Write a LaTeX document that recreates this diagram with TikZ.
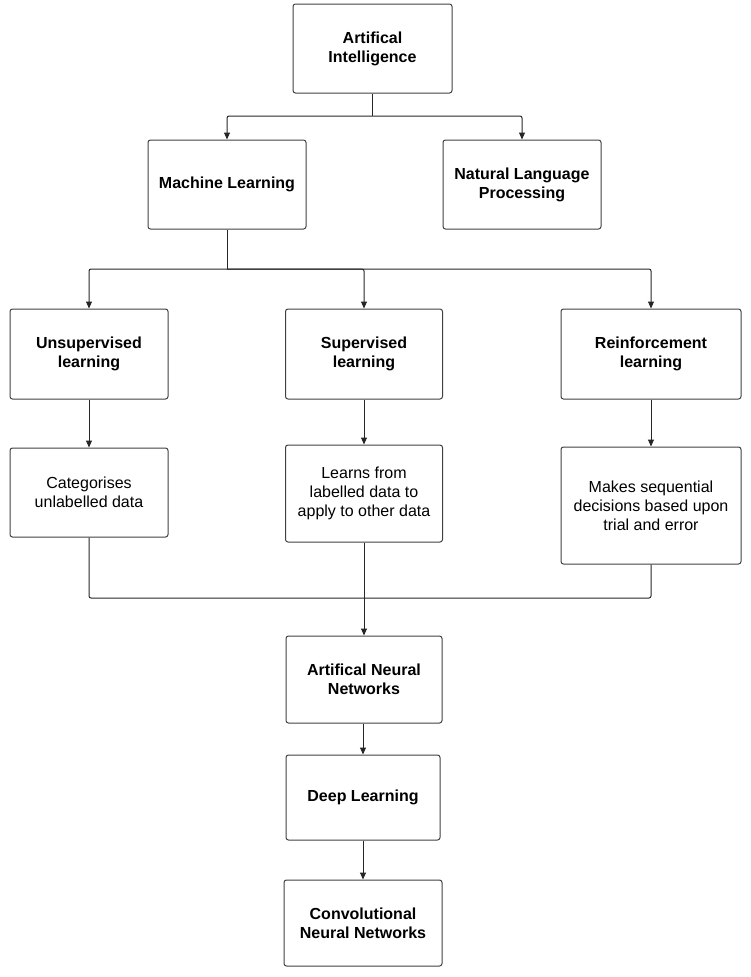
\documentclass[tikz,border=0pt]{standalone}
\usepackage{fontspec}
\setmainfont{Liberation Sans}
\usetikzlibrary{arrows.meta}
\begin{document}
\begin{tikzpicture}[x=1pt,y=-1pt,
  box/.style={draw=black!75, line width=1pt, rounded corners=2.5pt, align=center,
    inner sep=2pt, font=\fontsize{16}{19}\selectfont, text=black},
  title/.style={box, font=\fontsize{16}{19}\selectfont\bfseries},
  conn/.style={draw=black!85, line width=1pt, rounded corners=2pt},
  arr/.style={conn, -{Triangle[length=7pt,width=6pt]}}
]
\useasboundingbox (0,0) rectangle (750,977);
% nodes
\node[title, minimum width=159pt, minimum height=89pt] (ai) at (372.5,48.5) {Artifical\\Intelligence};
\node[title, minimum width=158pt, minimum height=89pt] (ml) at (227,184.5) {Machine Learning};
\node[title, minimum width=158pt, minimum height=89pt] (nlp) at (522,184.5) {Natural Language\\Processing};
\node[title, minimum width=158pt, minimum height=90pt] (uns) at (89,354) {Unsupervised\\learning};
\node[title, minimum width=157pt, minimum height=90pt] (sup) at (364,354) {Supervised\\learning};
\node[title, minimum width=180pt, minimum height=90pt] (rei) at (651,354) {Reinforcement\\learning};
\node[box, minimum width=158pt, minimum height=89pt] (cat) at (89,492.5) {Categorises\\unlabelled data};
\node[box, minimum width=157pt, minimum height=97pt] (lrn) at (364,493.5) {Learns from\\labelled data to\\apply to other data};
\node[box, minimum width=180pt, minimum height=117pt] (mak) at (651,505.5) {Makes sequential\\decisions based upon\\trial and error};
\node[title, minimum width=156pt, minimum height=87pt] (ann) at (364,679.5) {Artifical Neural\\Networks};
\node[title, minimum width=154pt, minimum height=85pt] (dl) at (363,797.5) {Deep Learning};
\node[title, minimum width=158pt, minimum height=86pt] (cnn) at (363,923) {Convolutional\\Neural Networks};
% junctions
\coordinate (j1) at (372.5,116);
\coordinate (j2) at (227,269);
\coordinate (j3) at (364,598);
% connectors
\draw[conn] (ai.south) -- (j1);
\draw[arr] (j1) -| (ml.north);
\draw[arr] (j1) -| (nlp.north);
\draw[conn] (ml.south) -- (j2);
\draw[arr] (j2) -| (uns.north);
\draw[arr] (j2) -| (sup.north);
\draw[arr] (j2) -| (rei.north);
\draw[arr] (uns.south) -- (cat.north);
\draw[arr] (sup.south) -- (lrn.north);
\draw[arr] (rei.south) -- (mak.north);
\draw[conn] (cat.south) |- (j3);
\draw[conn] (mak.south) |- (j3);
\draw[conn] (lrn.south) -- (j3);
\draw[arr] (j3) -- (ann.north);
\draw[arr] (ann.south -| dl.north) -- (dl.north);
\draw[arr] (dl.south) -- (cnn.north);
\end{tikzpicture}
\end{document}
